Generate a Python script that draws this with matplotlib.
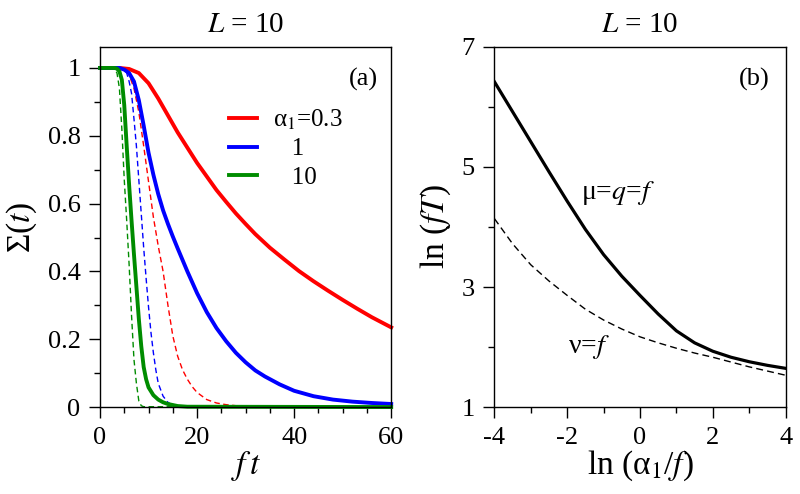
import numpy as np
import matplotlib
matplotlib.use("Agg")
import matplotlib.pyplot as plt
from matplotlib.ticker import MultipleLocator

plt.rcParams['font.family'] = 'serif'
plt.rcParams['font.serif'] = ['Liberation Serif', 'DejaVu Serif']
plt.rcParams['mathtext.fontset'] = 'stix'
plt.rcParams['axes.unicode_minus'] = False

# ---- panel (a): Sigma(t) vs ft, L = 10 ----
# solid lines: mu=q=f ; dashed: nu=f
t_red = [0, 4, 6, 8, 10, 12, 14, 16, 18, 20, 22, 24, 26, 28, 30, 32, 35, 38,
         41, 44, 47, 50, 53, 56, 60]
s_red = [1, 1, 0.997, 0.985, 0.955, 0.91, 0.86, 0.81, 0.765, 0.72, 0.68, 0.64,
         0.605, 0.571, 0.54, 0.51, 0.47, 0.435, 0.401, 0.371, 0.343, 0.316,
         0.29, 0.265, 0.235]

t_blue = [0, 4, 5, 6, 7, 8, 9, 10, 11, 12, 13, 14, 15, 16, 17, 18, 19, 20, 22,
          24, 26, 28, 30, 32, 34, 37, 40, 44, 48, 52, 56, 60]
s_blue = [1, 1, 0.995, 0.985, 0.96, 0.905, 0.83, 0.75, 0.685, 0.628, 0.58,
          0.54, 0.503, 0.468, 0.434, 0.40, 0.368, 0.336, 0.28, 0.233, 0.194,
          0.16, 0.132, 0.108, 0.09, 0.067, 0.048, 0.032, 0.022, 0.016, 0.012,
          0.009]

t_green = [0, 3, 3.5, 4, 4.5, 5, 5.5, 6, 6.5, 7, 7.5, 8, 8.5, 9, 9.5, 10, 11,
           12, 13, 14, 16, 18, 60]
s_green = [1, 1, 0.998, 0.99, 0.965, 0.89, 0.77, 0.655, 0.55, 0.45, 0.355,
           0.26, 0.18, 0.118, 0.082, 0.058, 0.035, 0.022, 0.014, 0.009, 0.003,
           0.001, 0]

t_red_d = [0, 4, 5, 6, 7, 8, 9, 10, 11, 12, 13, 14, 15, 16, 17, 18, 19, 20, 22,
           24, 26, 28, 30, 33, 60]
s_red_d = [1, 1, 0.995, 0.98, 0.94, 0.87, 0.77, 0.665, 0.56, 0.475, 0.40, 0.30,
           0.21, 0.15, 0.11, 0.082, 0.06, 0.043, 0.022, 0.012, 0.007, 0.004,
           0.002, 0.0005, 0]

t_blue_d = [0, 4, 5, 5.5, 6, 6.5, 7, 7.5, 8, 8.5, 9, 9.5, 10, 10.5, 11, 11.5,
            12, 13, 14, 15, 16, 60]
s_blue_d = [1, 1, 0.995, 0.985, 0.96, 0.925, 0.85, 0.77, 0.67, 0.57, 0.47,
            0.38, 0.295, 0.22, 0.16, 0.11, 0.07, 0.032, 0.014, 0.005, 0.002, 0]

t_green_d = [0, 2.5, 3, 3.5, 4, 4.5, 5, 5.5, 6, 6.5, 7, 7.5, 8, 8.5, 9, 60]
s_green_d = [1, 1, 0.997, 0.985, 0.94, 0.82, 0.67, 0.55, 0.42, 0.27, 0.14,
             0.07, 0.018, 0.004, 0.001, 0]

leg_labels = ['α${}_1$=0.3', '   1', '   10']

# ---- panel (b): ln(fT) vs ln(alpha1/f) ----
lna = [-4, -3.5, -3, -2.5, -2, -1.5, -1, -0.5, 0, 0.5, 1, 1.5, 2, 2.5, 3,
       3.5, 4]
lnT_muqf = [6.42, 5.92, 5.42, 4.92, 4.43, 3.96, 3.54, 3.18, 2.86, 2.55, 2.27,
            2.07, 1.93, 1.83, 1.755, 1.695, 1.645]
lnT_nuf = [4.14, 3.72, 3.37, 3.1, 2.86, 2.63, 2.45, 2.30, 2.17, 2.07, 1.98,
           1.9, 1.83, 1.75, 1.67, 1.6, 1.53]

red = '#ff0000'
blue = '#0000ff'
green = '#008c00'
fs_tick = 19
fs_lab = 24

fig = plt.figure(figsize=(8, 4.94), dpi=100)
ax = fig.add_axes([0.125, 0.176, 0.364, 0.729])
ax1 = fig.add_axes([0.618, 0.176, 0.364, 0.729])

dash = (0, (4, 2.5))
ax.plot(t_red_d, s_red_d, color=red, lw=1.0, ls=dash)
ax.plot(t_blue_d, s_blue_d, color=blue, lw=1.0, ls=dash)
ax.plot(t_green_d, s_green_d, color=green, lw=1.0, ls=dash)
l1, = ax.plot(t_red, s_red, color=red, lw=2.8, clip_on=False)
l2, = ax.plot(t_blue, s_blue, color=blue, lw=2.8, clip_on=False)
l3, = ax.plot(t_green, s_green, color=green, lw=2.8, clip_on=False)

ax.set_xlim(0, 60)
ax.set_ylim(0, 1.062)
ax.set_xticks([0, 20, 40, 60])
ax.set_yticks([0, 0.2, 0.4, 0.6, 0.8, 1])
ax.set_yticklabels(['0', '0.2', '0.4', '0.6', '0.8', '1'])
ax.xaxis.set_minor_locator(MultipleLocator(5))
ax.yaxis.set_minor_locator(MultipleLocator(0.1))
ax.set_xlabel('$f\\,t$', fontsize=fs_lab, labelpad=0)
ax.set_ylabel('Σ($t$)', fontsize=fs_lab, labelpad=6)
ax.set_title('$L$ = 10', fontsize=21, pad=11)
ax.text(0.955, 0.91, '(a)', transform=ax.transAxes, fontsize=19,
        ha='right', va='center')
ax.legend([l1, l2, l3], leg_labels, loc='upper left',
          bbox_to_anchor=(0.41, 0.86), frameon=False, fontsize=fs_tick - 1,
          handlelength=1.1, handletextpad=0.65, labelspacing=0.25,
          borderaxespad=0)

ax1.plot(lna, lnT_muqf, color='black', lw=2.3)
ax1.plot(lna, lnT_nuf, color='black', lw=1.0, ls=(0, (5, 3)))
ax1.set_xlim(-4, 4)
ax1.set_ylim(1, 7)
ax1.set_xticks([-4, -2, 0, 2, 4])
ax1.set_yticks([1, 3, 5, 7])
ax1.xaxis.set_minor_locator(MultipleLocator(1))
ax1.yaxis.set_minor_locator(MultipleLocator(1))
ax1.set_xlabel('ln (α${}_1$/$f$)', fontsize=fs_lab, labelpad=0)
ax1.set_ylabel('ln ($fT$)', fontsize=fs_lab, labelpad=6)
ax1.set_title('$L$ = 10', fontsize=21, pad=11)
ax1.text(0.945, 0.91, '(b)', transform=ax1.transAxes, fontsize=19,
         ha='right', va='center')
ax1.text(-1.62, 4.57, 'μ=$q$=$f$', fontsize=fs_tick + 1, ha='left', va='center')
ax1.text(-1.98, 2.0, 'ν=$f$', fontsize=fs_tick + 1, ha='left', va='center')

for a in (ax, ax1):
    a.tick_params(which='both', direction='out', top=False, right=False,
                  labelsize=fs_tick, width=1.0, pad=6)
    a.tick_params(which='major', length=8)
    a.tick_params(which='minor', length=4.5)
    for sp in a.spines.values():
        sp.set_linewidth(1.0)

fig.savefig('out.png', dpi=100)
